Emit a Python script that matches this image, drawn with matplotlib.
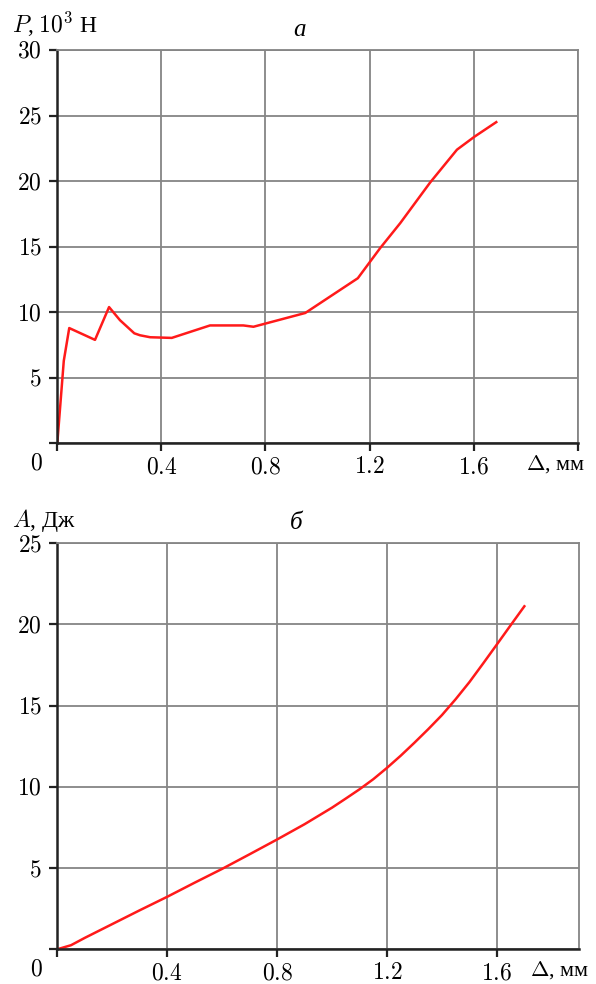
import numpy as np
import matplotlib
matplotlib.use('Agg')
import matplotlib.pyplot as plt
from matplotlib.ticker import FixedLocator, FixedFormatter

plt.rcParams['font.family'] = ['Liberation Serif', 'DejaVu Serif']
plt.rcParams['mathtext.fontset'] = 'cm'

# force P (10^3 N) vs displacement, mm
disp_a = [0, 0.025, 0.046, 0.145, 0.199, 0.241, 0.296, 0.318, 0.357, 0.44,
          0.587, 0.715, 0.754, 0.953, 1.155, 1.241, 1.318, 1.433, 1.536, 1.604, 1.687]
force_a = [0, 6.3, 8.8, 7.9, 10.4, 9.4, 8.4, 8.25, 8.1, 8.05,
           9.0, 9.0, 8.9, 9.95, 12.6, 14.9, 16.8, 19.9, 22.4, 23.4, 24.5]

# work A (J) vs displacement, mm
disp_b = [0, 0.05, 0.1, 0.2, 0.3, 0.4, 0.5, 0.6, 0.7, 0.8, 0.9, 1.0, 1.05, 1.1,
          1.15, 1.2, 1.25, 1.3, 1.35, 1.4, 1.45, 1.5, 1.55, 1.6, 1.65, 1.7]
work_b = [0, 0.25, 0.7, 1.55, 2.4, 3.23, 4.1, 4.95, 5.85, 6.76, 7.7, 8.72, 9.28, 9.85,
          10.47, 11.17, 11.92, 12.72, 13.55, 14.42, 15.4, 16.45, 17.6, 18.77, 19.95, 21.12]

xticks_a = [0, 0.4, 0.8, 1.2, 1.6, 2.0]
xticks_b = [0, 0.4, 0.8, 1.2, 1.6]
xlabels = ['', '0.4', '0.8', '1.2', '1.6', '']
yticks_a = [0, 5, 10, 15, 20, 25, 30]
yticks_b = [0, 5, 10, 15, 20, 25]

FS = 17
RED = '#ff1a1a'
GRID = '#858585'


def style(ax, xmax, ymax, xt, yt):
    ax.set_xlim(0, xmax)
    ax.set_ylim(0, ymax)
    ax.xaxis.set_major_locator(FixedLocator(xt))
    ax.xaxis.set_major_formatter(FixedFormatter(['$%s$' % l if l else '' for l in xlabels[:len(xt)]]))
    ax.yaxis.set_major_locator(FixedLocator(yt))
    ax.yaxis.set_major_formatter(FixedFormatter([''] + ['$%d$' % v for v in yt[1:]]))
    ax.grid(True, color=GRID, lw=1.3)
    ax.set_axisbelow(True)
    for s in ['left', 'bottom']:
        ax.spines[s].set_linewidth(1.8)
        ax.spines[s].set_color('#222222')
    for s in ['top', 'right']:
        ax.spines[s].set_linewidth(1.3)
        ax.spines[s].set_color(GRID)
    ax.tick_params(direction='out', length=6, width=1.6, color='#222222',
                   labelsize=FS, pad=5)
    ax.tick_params(axis='x', pad=4)


fig = plt.figure(figsize=(5.96, 9.84), dpi=100)

ax1 = fig.add_axes([0.0961, 0.5493, 0.8732, 0.3999])
ax1.plot(disp_a, force_a, color=RED, lw=1.8)
style(ax1, 2.0, 30, xticks_a, yticks_a)
ax1.text(-0.08, -1.6, '$0$', fontsize=FS, ha='center', va='center')
ax1.text(1.915, -1.6, r'$\Delta$, мм', fontsize=FS - 1, ha='center', va='center')
ax1.text(-0.175, 31.3, '$P$, $10^3$ Н', fontsize=FS, ha='left', va='baseline')
ax1.text(0.93, 31.1, 'а', fontsize=FS + 1, style='italic', ha='center', va='baseline')

ax2 = fig.add_axes([0.0961, 0.0353, 0.8759, 0.4126])
ax2.plot(disp_b, work_b, color=RED, lw=1.8)
style(ax2, 1.9, 25, xticks_b, yticks_b)
ax2.text(-0.076, -1.3, '$0$', fontsize=FS, ha='center', va='center')
ax2.text(1.83, -1.3, r'$\Delta$, мм', fontsize=FS - 1, ha='center', va='center')
ax2.text(-0.165, 26.0, '$A$, Дж', fontsize=FS, ha='left', va='baseline')
ax2.text(0.87, 25.9, 'б', fontsize=FS + 1, style='italic', ha='center', va='baseline')

fig.savefig('out.png', dpi=100)
